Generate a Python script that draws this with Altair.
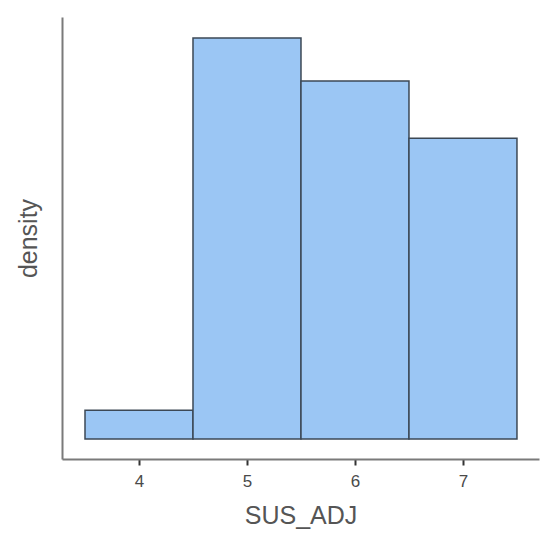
import altair as alt
import pandas as pd

bin_start = [3.5, 4.5, 5.5, 6.5]
bin_end = [4.5, 5.5, 6.5, 7.5]
density = [2 / 76, 28 / 76, 25 / 76, 21 / 76]
x_ticks = [4, 5, 6, 7]

df = pd.DataFrame({"start": bin_start, "end": bin_end, "density": density})

chart = alt.Chart(df).mark_rect(
    fill="#9BC6F4", stroke="#3C4855", strokeWidth=1.5
).encode(
    x=alt.X("start:Q", scale=alt.Scale(domain=[3.287, 7.704], nice=False, zero=False),
            axis=alt.Axis(title="SUS_ADJ", values=x_ticks, grid=False, tickSize=6,
                          tickWidth=2, labelPadding=8, titlePadding=14)),
    x2="end:Q",
    y=alt.Y("density:Q", scale=alt.Scale(domain=[-0.0184, 0.3877], nice=False, zero=False),
            axis=alt.Axis(title="density", labels=False, ticks=False, grid=False,
                          titlePadding=21)),
    y2=alt.datum(0),
).properties(
    width=477, height=442,
    autosize=alt.AutoSizeParams(type="none"),
    padding={"left": 54, "top": 9, "right": 1, "bottom": 80},
).configure_view(stroke=None).configure_axis(
    domainColor="#7A7A7A", domainWidth=2, tickColor="#333333",
    labelFont="Liberation Sans", labelFontSize=17, labelColor="#4A4A4A",
    titleFont="Liberation Sans", titleFontSize=25, titleFontWeight="normal",
    titleColor="#555555",
)

chart.save("out.html", embed_options={"renderer": "svg", "actions": False})
